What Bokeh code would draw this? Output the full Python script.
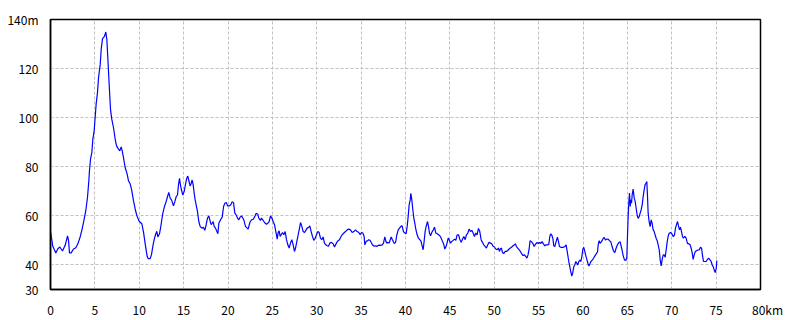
from bokeh.plotting import figure
from bokeh.models import Range1d, FixedTicker
from bokeh.embed import file_html
from bokeh.resources import INLINE

km = [0.0, 0.1, 0.26, 0.6, 0.83, 1.05, 1.35, 1.65, 1.92, 2.03, 2.14, 2.33, 2.59, 2.85, 3.08, 3.34, 3.53, 3.76, 3.98, 4.17,
      4.32, 4.39, 4.51, 4.66, 4.77, 4.92, 5.03, 5.14, 5.29, 5.41, 5.6, 5.71, 5.86, 6.08, 6.23, 6.35, 6.46, 6.61, 6.76, 6.91,
      7.1, 7.29, 7.44, 7.66, 7.81, 7.96, 8.08, 8.22, 8.41, 8.64, 8.79, 8.98, 9.16, 9.35, 9.54, 9.73, 9.99, 10.29, 10.48, 10.67,
      10.89, 11.0, 11.23, 11.38, 11.53, 11.68, 11.83, 11.98, 12.09, 12.28, 12.43, 12.51, 12.66, 12.84, 13.03, 13.18, 13.33, 13.48, 13.63, 13.86,
      14.01, 14.16, 14.31, 14.42, 14.54, 14.61, 14.76, 14.91, 15.06, 15.2, 15.35, 15.47, 15.62, 15.73, 15.85, 15.96, 16.07, 16.19, 16.3, 16.41,
      16.56, 16.71, 16.86, 17.05, 17.24, 17.39, 17.54, 17.69, 17.84, 17.95, 18.1, 18.22, 18.33, 18.44, 18.59, 18.74, 18.86, 18.97, 19.16, 19.35,
      19.5, 19.65, 19.8, 19.95, 20.17, 20.32, 20.47, 20.62, 20.77, 20.92, 21.07, 21.22, 21.37, 21.52,
      21.78, 21.97, 22.16, 22.27, 22.46, 22.65, 22.84, 23.02, 23.17, 23.36, 23.47, 23.66, 23.77, 23.92, 24.11, 24.34, 24.49, 24.64, 24.79, 24.94,
      25.09, 25.24, 25.35, 25.46, 25.54, 25.65, 25.76, 25.88, 25.99, 26.14, 26.29, 26.44, 26.59, 26.74, 26.89, 27.04, 27.19, 27.34, 27.49, 27.61,
      27.72, 27.87, 28.02, 28.17, 28.32, 28.47, 28.62, 28.77, 28.92, 29.11, 29.22, 29.37, 29.52, 29.67, 29.82, 29.97, 30.12, 30.27, 30.42, 30.57,
      30.72, 30.87, 31.02, 31.17, 31.32, 31.47, 31.66, 31.85, 32.0,
      32.26, 32.41, 32.56, 32.71, 32.86, 33.05, 33.24, 33.43, 33.61, 33.8, 33.99, 34.18, 34.37, 34.55, 34.74, 34.89, 35.04, 35.19, 35.34, 35.42,
      35.57, 35.72, 35.87, 36.02, 36.17, 36.32, 36.47, 36.62, 36.81, 37.0, 37.18, 37.37, 37.52, 37.67, 37.79, 37.9, 38.05, 38.16, 38.28, 38.39,
      38.5, 38.62, 38.73, 38.88, 39.03, 39.18, 39.33, 39.48, 39.62, 39.77, 39.92, 40.07, 40.19, 40.3, 40.41, 40.53, 40.6, 40.71, 40.83, 40.94,
      41.05, 41.16, 41.31, 41.46, 41.61, 41.76, 41.87, 41.99, 42.1, 42.21, 42.33, 42.48, 42.59, 42.7,
      42.82, 42.97, 43.12, 43.27, 43.42, 43.57, 43.72, 43.87, 44.02, 44.17, 44.32, 44.43, 44.58, 44.7, 44.81, 44.92, 45.07, 45.22, 45.37, 45.52,
      45.67, 45.82, 45.97, 46.12, 46.27, 46.42, 46.57, 46.72, 46.87, 47.02, 47.17, 47.32, 47.47, 47.62, 47.77, 47.92, 48.07, 48.22, 48.37, 48.52,
      48.67, 48.82, 48.97, 49.12, 49.27, 49.42, 49.57, 49.72, 49.87, 50.02, 50.17, 50.32, 50.47, 50.58, 50.69, 50.81, 50.92, 51.07, 51.22, 51.37,
      51.52, 51.67, 51.82, 51.97, 52.12, 52.27, 52.38, 52.49, 52.64, 52.79, 52.94, 53.09, 53.24, 53.39, 53.54, 53.69, 53.81, 53.92,
      54.04, 54.19, 54.34, 54.49, 54.64, 54.79, 54.94, 55.09, 55.24, 55.39, 55.54, 55.7, 55.85, 55.99, 56.15, 56.26, 56.37, 56.48, 56.6, 56.71,
      56.82, 56.97, 57.12, 57.24, 57.35, 57.5, 57.65, 57.8, 57.95, 58.1, 58.25, 58.4, 58.51, 58.62, 58.74, 58.85, 58.96, 59.07, 59.19, 59.3,
      59.41, 59.53, 59.64, 59.75, 59.87, 59.98, 60.09, 60.21, 60.32, 60.43, 60.55, 60.66, 60.77, 60.89, 61.04, 61.19, 61.34, 61.49, 61.64, 61.71,
      61.82, 61.93, 62.08, 62.23, 62.38, 62.53, 62.68, 62.83, 62.98, 63.13, 63.28, 63.43, 63.58, 63.73, 63.88, 64.03, 64.18,
      64.38, 64.53, 64.68, 64.83, 64.94, 65.01, 65.09, 65.17, 65.24, 65.32, 65.39, 65.47, 65.54, 65.65, 65.77, 65.88, 65.99, 66.1, 66.21, 66.33,
      66.44, 66.55, 66.67, 66.78, 66.89, 67.0, 67.12, 67.19, 67.27, 67.34, 67.45, 67.57, 67.68, 67.79, 67.91, 68.02, 68.13, 68.24, 68.36, 68.47,
      68.59, 68.7, 68.81, 68.92, 69.04, 69.15, 69.26, 69.37, 69.49, 69.6, 69.71, 69.86, 70.01, 70.16, 70.31, 70.42, 70.53, 70.65, 70.76, 70.87,
      70.98, 71.1, 71.21, 71.32, 71.47, 71.62, 71.77, 71.92, 72.07, 72.19, 72.3, 72.41, 72.53, 72.64, 72.79, 72.94, 73.09, 73.24, 73.36, 73.47,
      73.58, 73.73, 73.88, 74.03, 74.18, 74.33, 74.44, 74.56, 74.67, 74.78, 74.89, 75.01, 75.08]

elev = [53.4, 51.4, 47.6, 44.9, 46.6, 47.3, 45.7, 48.0, 51.8, 50.0, 44.9, 44.9, 46.5, 47.0, 48.6, 51.4, 54.1, 58.1, 62.2, 67.6,
        74.3, 78.4, 83.1, 85.8, 91.2, 94.6, 100.0, 105.4, 110.1, 116.2, 121.6, 127.7, 132.2, 133.1, 134.9, 131.8, 124.3, 113.5, 103.4, 99.3,
        95.9, 91.2, 88.5, 87.2, 86.5, 88.1, 86.5, 83.8, 79.7, 77.0, 74.3, 73.0, 70.3, 66.2, 62.8, 60.1, 57.8, 56.8, 53.4, 48.6,
        43.5, 42.6, 42.6, 44.2, 47.6, 50.3, 52.3, 53.7, 51.4, 52.7, 55.7, 57.7, 61.1, 63.8, 65.8, 67.8, 69.6, 67.2, 66.5, 64.1,
        65.8, 67.8, 68.5, 72.6, 75.3, 73.2, 70.5, 68.5, 69.9, 72.6, 75.3, 76.2, 73.9, 72.2, 73.2, 74.6, 72.8, 69.2, 66.5, 64.5,
        61.8, 57.7, 55.7, 55.0, 55.3, 54.1, 56.4, 59.1, 60.0, 58.4, 56.4, 57.0, 57.7, 55.7, 55.0, 53.7, 52.7, 57.0, 58.4, 59.5,
        63.8, 65.1, 65.5, 64.1, 64.1, 64.5, 65.8, 65.4, 61.1, 60.4, 59.1, 58.4, 59.5, 60.0,
        58.4, 55.7, 55.0, 54.6, 57.3, 58.4, 58.6, 59.7, 61.1, 60.7, 59.1, 58.1, 59.1, 58.4, 57.3, 56.6, 57.0, 57.7, 60.0, 59.1,
        57.7, 56.4, 54.3, 52.3, 50.5, 53.2, 53.9, 51.6, 52.3, 53.2, 52.3, 53.6, 50.3, 48.2, 46.9, 48.9, 50.3, 48.2, 45.5, 46.9,
        48.9, 51.6, 54.3, 57.3, 55.7, 53.6, 53.2, 54.1, 55.0, 55.4, 55.9, 53.6, 51.6, 50.0, 50.9, 52.3, 53.6, 53.2, 50.9, 50.3,
        51.4, 48.9, 48.2, 47.8, 47.6, 48.9, 49.2, 48.6, 47.3,
        49.2, 49.9, 50.3, 51.4, 52.3, 53.0, 53.6, 54.3, 54.6, 54.3, 53.2, 53.6, 54.3, 53.6, 53.2, 52.3, 53.2, 53.0, 51.6, 48.2,
        49.6, 49.9, 50.3, 50.0, 48.9, 48.0, 47.6, 47.8, 47.6, 48.1, 48.0, 48.2, 48.9, 51.4, 49.6, 48.9, 49.2, 48.9, 50.3, 51.4,
        50.5, 49.6, 48.7, 49.2, 52.3, 54.3, 55.0, 55.7, 55.9, 53.6, 53.0, 52.7, 55.7, 59.7, 64.5, 66.5, 69.2, 66.5, 62.4, 59.1,
        57.0, 54.6, 52.3, 50.9, 50.3, 49.6, 47.8, 46.2, 49.6, 53.6, 55.7, 57.7, 55.7, 53.0,
        51.9, 53.3, 54.2, 55.4, 53.0, 52.7, 52.3, 51.9, 50.9, 49.6, 48.2, 46.5, 47.6, 49.2, 50.9, 50.3, 48.9, 49.6, 50.0, 50.5,
        50.0, 52.3, 52.3, 50.5, 49.2, 50.5, 51.6, 50.3, 52.3, 53.0, 54.6, 53.6, 54.1, 53.0, 51.6, 53.0, 52.3, 54.9, 53.6, 50.3,
        49.2, 48.2, 47.6, 46.9, 48.2, 49.2, 48.9, 48.6, 47.6, 47.3, 46.5, 46.2, 46.9, 45.5, 46.5, 46.9, 45.1, 44.6, 45.5, 45.5,
        45.9, 46.5, 46.9, 47.3, 47.8, 48.2, 48.6, 47.6, 46.9, 46.2, 45.5, 44.6, 43.8, 44.2, 43.5, 42.8, 44.2, 46.2,
        49.9, 49.5, 48.8, 47.5, 48.4, 49.1, 48.8, 49.1, 48.8, 49.5, 48.6, 47.8, 48.2, 48.2, 48.4, 51.6, 52.7, 52.2, 50.9, 47.8,
        47.5, 49.5, 51.3, 49.5, 47.5, 47.2, 47.2, 47.2, 47.5, 48.2, 44.8, 41.4, 39.3, 37.3, 35.5, 36.9, 39.3, 40.0, 41.4, 40.7,
        40.0, 41.4, 42.0, 41.4, 43.4, 46.4, 47.2, 45.4, 43.7, 42.3, 40.7, 39.6, 40.4, 41.4, 42.0, 42.7, 43.7, 44.5, 45.4, 48.2,
        49.9, 48.8, 49.5, 50.5, 51.3, 50.2, 50.5, 50.5, 49.9, 49.5, 47.5, 45.8, 45.0, 46.8, 48.2, 49.1, 49.5,
        46.4, 43.7, 42.0, 41.8, 43.1, 51.6, 59.7, 65.9, 69.3, 63.8, 66.5, 65.2, 68.6, 70.9, 67.2, 65.9, 63.1, 60.4, 59.0, 59.7,
        61.1, 62.4, 64.5, 67.9, 70.6, 72.7, 73.3, 74.0, 67.9, 61.1, 57.7, 55.6, 58.4, 57.0, 54.3, 53.6, 52.2, 50.9, 49.9, 48.2,
        46.1, 42.0, 39.6, 42.3, 44.1, 44.1, 43.1, 46.1, 49.5, 51.8, 52.9, 53.2, 52.7, 51.6, 52.2, 55.0, 56.3, 57.7, 55.9, 54.3,
        55.4, 53.6, 51.6, 50.9, 51.6, 50.9, 48.8, 48.6, 48.2, 46.8, 45.0, 42.3, 44.1, 45.4, 45.8, 46.1, 46.1, 47.2, 46.8, 43.7,
        41.4, 41.4, 41.4, 42.3, 42.7, 42.0, 41.4, 40.0, 39.3, 38.0, 36.9, 38.6, 41.8]

x_ticks = [0, 5, 10, 15, 20, 25, 30, 35, 40, 45, 50, 55, 60, 65, 70, 75, 80]
y_ticks = [30, 40, 60, 80, 100, 120, 140]
y_tick_labels = {140: "140m"}
# leading figure spaces keep "80" centred on its tick while "km" trails after it
x_tick_labels = {80: "\u2007\u2007\u200a80km"}

FONT = "Noto Sans CJK JP"

p = figure(width=800, height=320, output_backend="svg", toolbar_location=None,
           x_range=Range1d(0, 80), y_range=Range1d(30, 140),
           min_border_left=50, min_border_right=40, min_border_top=19, min_border_bottom=30)
p.background_fill_color = "white"
p.border_fill_color = "white"
p.outline_line_color = "black"
p.outline_line_width = 1.5

p.line(km, elev, line_color="#0000ff", line_width=1.2)

for ax in (p.xaxis, p.yaxis):
    ax.axis_line_color = "black"
    ax.axis_line_width = 1.5
    ax.major_tick_line_color = None
    ax.minor_tick_line_color = None
    ax.major_label_text_font = FONT
    ax.major_label_text_font_size = "12px"
    ax.major_label_text_color = "black"

p.xaxis.ticker = FixedTicker(ticks=x_ticks)
p.yaxis.ticker = FixedTicker(ticks=y_ticks)
p.yaxis.major_label_overrides = y_tick_labels
p.xaxis.major_label_overrides = x_tick_labels
p.yaxis.major_label_standoff = 6
p.xaxis.major_label_standoff = 5

for g in (p.xgrid, p.ygrid):
    g.grid_line_color = "#c0c0c0"
    g.grid_line_dash = "3 2"
    g.grid_line_width = 1
p.xgrid.ticker = FixedTicker(ticks=x_ticks)
p.ygrid.ticker = FixedTicker(ticks=y_ticks)

open("out.html", "w").write(file_html(p, INLINE))
